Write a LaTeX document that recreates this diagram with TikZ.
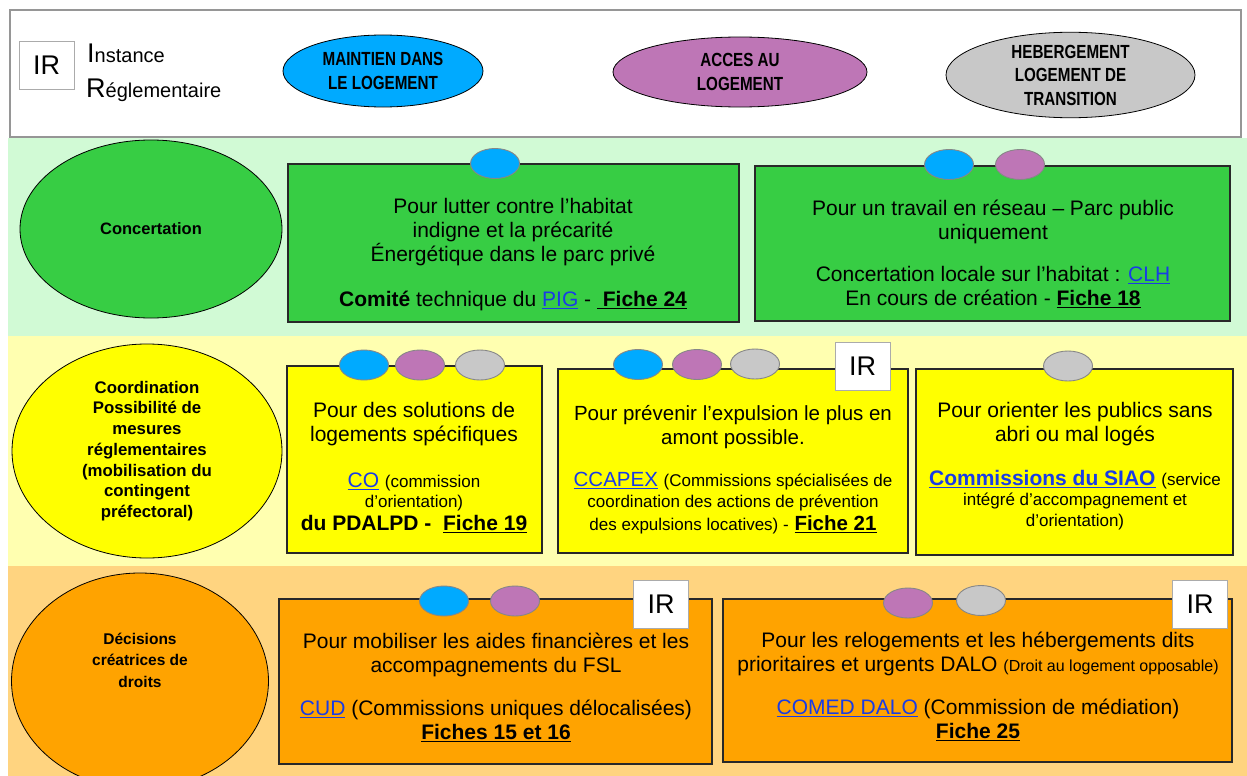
\documentclass[tikz,border=0pt]{standalone}
\usepackage{fontspec}
\setmainfont{Liberation Sans}
\newfontfamily\narrowsf[FakeStretch=0.8]{Liberation Sans}
\usetikzlibrary{shapes.geometric}
\definecolor{cblue}{RGB}{0,170,255}
\definecolor{cpurple}{RGB}{190,118,182}
\definecolor{cgray}{RGB}{200,200,200}
\definecolor{bandgreen}{RGB}{209,250,213}
\definecolor{bandyellow}{RGB}{255,255,176}
\definecolor{bandorange}{RGB}{255,212,128}
\definecolor{fgreen}{RGB}{55,205,68}
\definecolor{fyellow}{RGB}{255,255,0}
\definecolor{forange}{RGB}{255,163,0}
\definecolor{linkblue}{RGB}{25,60,230}
\definecolor{hdrgray}{RGB}{150,150,150}
\definecolor{boxline}{RGB}{40,40,40}
\definecolor{dotline}{RGB}{135,135,135}
\newcommand\lnk[1]{\textcolor{linkblue}{\underline{#1}}}
\newcommand\fch[1]{\textbf{\underline{#1}}}
\newcommand\smf{\fontsize{17}{20}\selectfont}
\tikzset{
  bigell/.style={ellipse, draw=black, line width=0.8, inner sep=0, align=center},
  hdrtxt/.style={font=\narrowsf\fontsize{19}{23.5}\selectfont\bfseries},
  infobox/.style={rectangle, draw=boxline, line width=1.4, inner sep=0},
  dotell/.style={ellipse, draw=dotline, line width=0.9, minimum width=49, minimum height=30, inner sep=0},
  irbox/.style={rectangle, draw=hdrgray!80, line width=0.9, fill=white, minimum width=55, minimum height=48, inner sep=0, font=\fontsize{27}{27}\selectfont},
  txt/.style={align=center, inner sep=0, anchor=north, font=\fontsize{21}{24}\selectfont},
}
\begin{document}
\begin{tikzpicture}[x=1pt,y=-1pt]
\useasboundingbox (0,0) rectangle (1247,776);
% bands
\fill[white] (0,0) rectangle (1247,776);
\draw[draw=hdrgray, line width=1.5, fill=white] (10,10) rectangle (1241,137);
\fill[bandgreen] (8,138) rectangle (1247,336);
\fill[bandyellow] (8,336) rectangle (1247,566);
\fill[bandorange] (8,566) rectangle (1247,776);

% header
\node[irbox] (irlegend) at (46.5,65.5) {IR};
\node[anchor=base west, inner sep=0, font=\fontsize{20}{20}\selectfont] (inst) at (87,63) {{\fontsize{27}{27}\selectfont I}nstance};
\node[anchor=base west, inner sep=0, font=\fontsize{20}{20}\selectfont] (regl) at (86,97) {{\fontsize{27}{27}\selectfont R}églementaire};
\node[bigell, fill=cblue, minimum width=200, minimum height=72, hdrtxt] (maintien) at (383,71) {MAINTIEN DANS\\LE LOGEMENT};
\node[bigell, fill=cpurple, minimum width=254, minimum height=70, hdrtxt] (acces) at (740,72) {ACCES AU\\LOGEMENT};
\node[bigell, fill=cgray, minimum width=249, minimum height=74, hdrtxt] (heberg) at (1070.5,75) {HEBERGEMENT\\LOGEMENT DE\\TRANSITION};

% row 1 : concertation
\node[bigell, fill=fgreen, minimum width=262, minimum height=178, font=\fontsize{16.5}{20}\selectfont\bfseries] (concert) at (151,229) {Concertation};
\node[infobox, fill=fgreen, minimum width=451, minimum height=158] (g1) at (513.5,243) {};
\node[dotell, fill=cblue] (g1a) at (495,163.5) {};
\node[txt] (g1t) at (513,198) {Pour lutter contre l'habitat\\indigne et la précarité\\Énergétique dans le parc privé\\[21pt]\textbf{Comité} technique du \lnk{PIG} - \fch{\ Fiche 24}};

\node[infobox, fill=fgreen, minimum width=475, minimum height=155] (g2) at (992.5,243.5) {};
\node[dotell, fill=cblue] (g2a) at (949,164.5) {};
\node[dotell, fill=cpurple] (g2b) at (1020,164.5) {};
\node[txt] (g2t) at (993,200) {Pour un travail en réseau – Parc public\\uniquement\\[18pt]Concertation locale sur l'habitat : \lnk{CLH}\\En cours de création - \fch{Fiche 18}};

% row 2 : coordination
\node[bigell, fill=fyellow, minimum width=270, minimum height=214, font=\fontsize{16.8}{20.7}\selectfont\bfseries] (coord) at (147,451) {Coordination\\Possibilité de\\mesures\\réglementaires\\(mobilisation du\\contingent\\préfectoral)};

\node[infobox, fill=fyellow, minimum width=255, minimum height=187] (y1) at (414.5,459.5) {};
\node[dotell, fill=cblue] (y1a) at (364,365) {};
\node[dotell, fill=cpurple] (y1b) at (420,365) {};
\node[dotell, fill=cgray] (y1c) at (480,365) {};
\node[txt] (y1t) at (414,402) {Pour des solutions de\\logements spécifiques\\[22pt]\lnk{CO} {\smf (commission}\\[-4pt]{\smf d'orientation)}\\[-1pt]\textbf{du PDALPD -\ \ \underline{Fiche 19}}};

\node[infobox, fill=fyellow, minimum width=350, minimum height=184] (y2) at (733,461) {};
\node[dotell, fill=cblue] (y2a) at (638,364.5) {};
\node[dotell, fill=cpurple] (y2b) at (697,364.5) {};
\node[dotell, fill=cgray] (y2c) at (755,364) {};
\node[irbox] (y2ir) at (862.5,366) {IR};
\node[txt, font=\fontsize{20.5}{24}\selectfont] (y2t) at (733,405) {Pour prévenir l'expulsion le plus en\\amont possible.\\[18pt]\lnk{CCAPEX} {\smf (Commissions spécialisées de}\\[-3pt]{\smf coordination des actions de prévention}\\[-1pt]{\smf des expulsions locatives) -} \fch{Fiche 21}};

\node[infobox, fill=fyellow, minimum width=317, minimum height=186] (y3) at (1074.5,462) {};
\node[dotell, fill=cgray] (y3a) at (1068,366) {};
\node[txt] (y3t) at (1075,402) {Pour orienter les publics sans\\abri ou mal logés\\[20pt]\lnk{\textbf{Commissions du SIAO}} {\smf (service}\\[-4pt]{\smf intégré d'accompagnement et}\\[-3pt]{\smf d'orientation)}};

% row 3 : decisions
\node[bigell, fill=forange, minimum width=257, minimum height=216] (decis) at (140,681) {};
\node[align=center, inner sep=0, font=\fontsize{15.5}{21.5}\selectfont\bfseries] (decist) at (140,660) {Décisions\\créatrices de\\droits};

\node[infobox, fill=forange, minimum width=433, minimum height=165] (o1) at (495.5,681.5) {};
\node[dotell, fill=cblue] (o1a) at (444,601) {};
\node[dotell, fill=cpurple] (o1b) at (515,601) {};
\node[irbox] (o1ir) at (661,604) {IR};
\node[txt] (o1t) at (496,633) {Pour mobiliser les aides financières et les\\accompagnements du FSL\\[19pt]\lnk{CUD} (Commissions uniques délocalisées)\\\fch{Fiches 15 et 16}};

\node[infobox, fill=forange, minimum width=509, minimum height=163] (o2) at (977.5,680.5) {};
\node[dotell, fill=cpurple] (o2a) at (908,603) {};
\node[dotell, fill=cgray] (o2b) at (981,600.5) {};
\node[irbox] (o2ir) at (1200,604.5) {IR};
\node[txt] (o2t) at (978,632) {Pour les relogements et les hébergements dits\\prioritaires et urgents DALO {\fontsize{16}{20}\selectfont (Droit au logement opposable)}\\[19pt]\lnk{COMED DALO} (Commission de médiation)\\\fch{Fiche 25}};
\end{tikzpicture}
\end{document}
